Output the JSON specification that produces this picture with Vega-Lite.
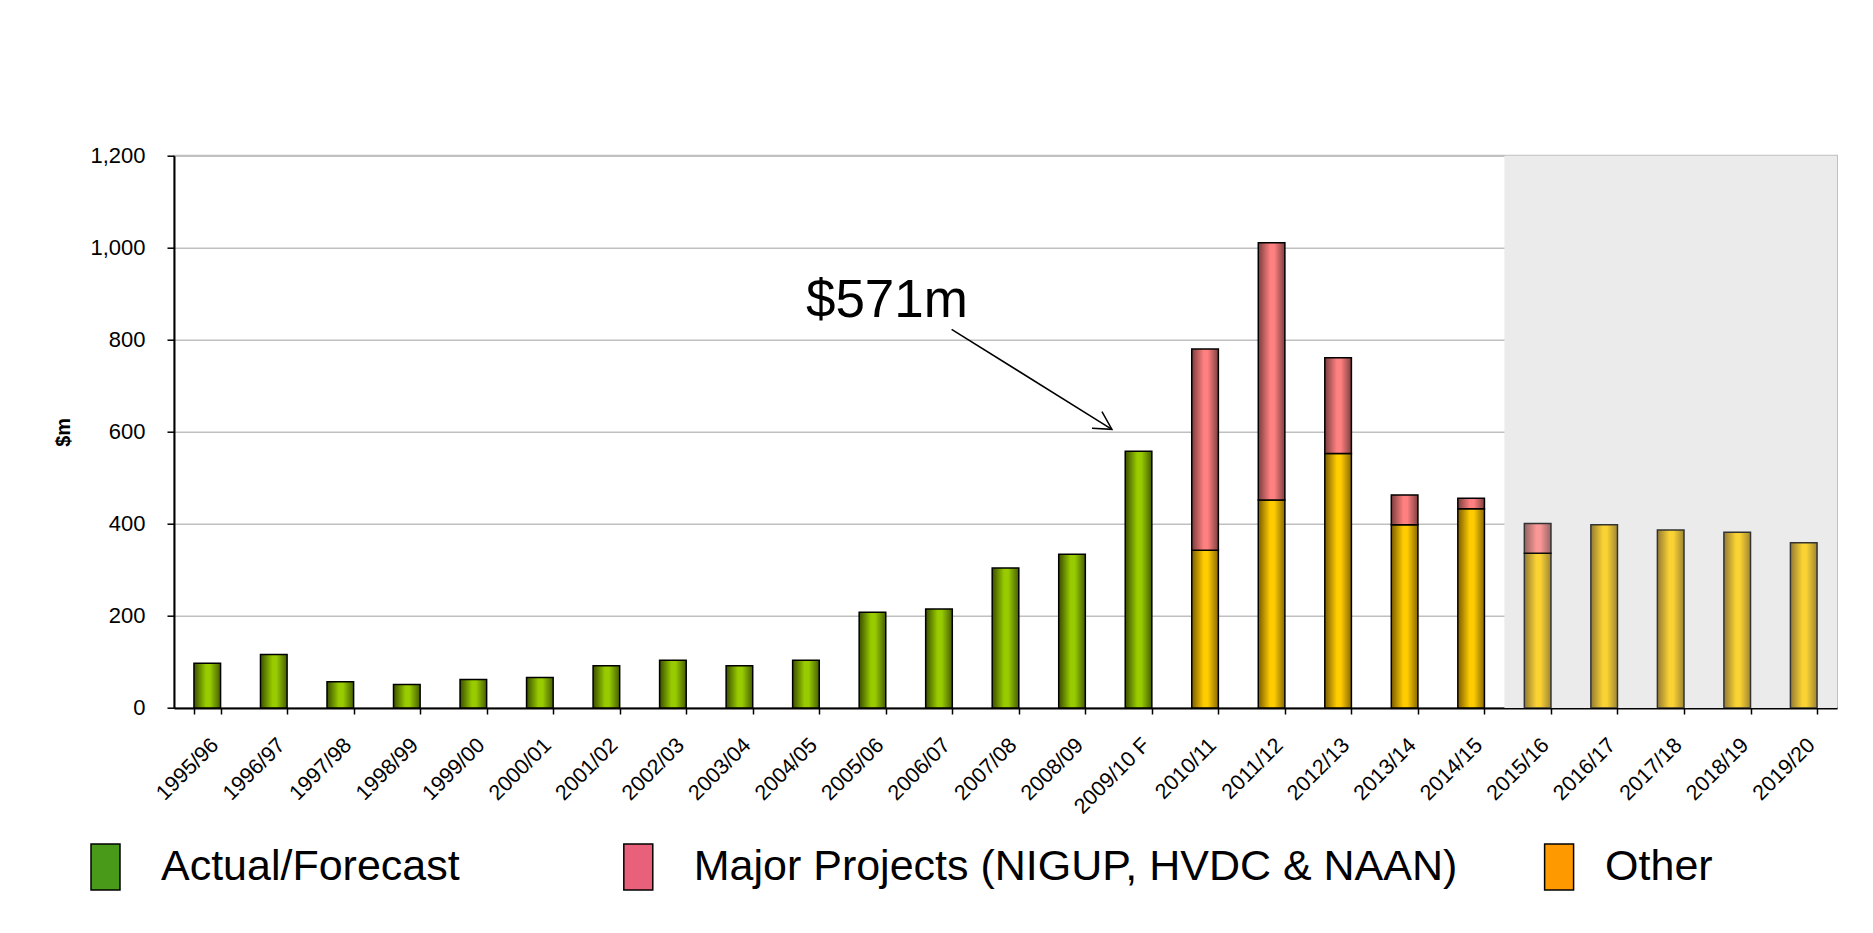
{
  "$schema": "https://vega.github.io/schema/vega-lite/v6.json",
  "width": 1663,
  "height": 552.3,
  "autosize": {"type": "none"},
  "padding": {"left": 174, "top": 155.7, "right": 36.3, "bottom": 225},
  "background": "white",
  "config": {
    "font": "Liberation Sans",
    "view": {"stroke": "#c0c0c0", "strokeWidth": 2},
    "axis": {
      "labelFont": "Liberation Sans",
      "labelFontSize": 22,
      "labelColor": "black",
      "domainColor": "black",
      "domainWidth": 2,
      "tickColor": "black",
      "tickWidth": 1.5,
      "titleFont": "Liberation Sans",
      "titleColor": "black"
    },
    "axisY": {
      "grid": true,
      "gridColor": "#c0c0c0",
      "gridWidth": 1.5,
      "tickSize": 7,
      "labelPadding": 22,
      "titleFontSize": 20,
      "titleFontWeight": "bold",
      "titlePadding": 16,
      "tickCount": 6
    },
    "axisX": {
      "grid": false,
      "labelAngle": -45,
      "labelAlign": "right",
      "labelBaseline": "top",
      "labelFontSize": 21.5,
      "tickSize": 6,
      "labelPadding": 20
    },
    "legend": {
      "orient": "none",
      "legendY": 687.3,
      "direction": "horizontal",
      "symbolType": "M-0.63,-1H0.63V1H-0.63Z",
      "symbolSize": 2116,
      "symbolStrokeColor": "black",
      "symbolStrokeWidth": 1.5,
      "labelFontSize": 43,
      "labelFont": "Liberation Sans",
      "labelColor": "black",
      "labelLimit": 2000,
      "padding": 0
    }
  },
  "datasets": {
    "spend": [
      {"year": "1995/96", "series": "Actual/Forecast", "value": 97},
      {"year": "1996/97", "series": "Actual/Forecast", "value": 116},
      {"year": "1997/98", "series": "Actual/Forecast", "value": 57},
      {"year": "1998/99", "series": "Actual/Forecast", "value": 51},
      {"year": "1999/00", "series": "Actual/Forecast", "value": 62},
      {"year": "2000/01", "series": "Actual/Forecast", "value": 66},
      {"year": "2001/02", "series": "Actual/Forecast", "value": 92},
      {"year": "2002/03", "series": "Actual/Forecast", "value": 104},
      {"year": "2003/04", "series": "Actual/Forecast", "value": 92},
      {"year": "2004/05", "series": "Actual/Forecast", "value": 104},
      {"year": "2005/06", "series": "Actual/Forecast", "value": 208},
      {"year": "2006/07", "series": "Actual/Forecast", "value": 215},
      {"year": "2007/08", "series": "Actual/Forecast", "value": 304},
      {"year": "2008/09", "series": "Actual/Forecast", "value": 334},
      {"year": "2009/10 F", "series": "Actual/Forecast", "value": 558},
      {"year": "2010/11", "series": "Other", "value": 343},
      {"year": "2010/11", "series": "Major Projects (NIGUP, HVDC & NAAN)", "value": 437},
      {"year": "2011/12", "series": "Other", "value": 452},
      {"year": "2011/12", "series": "Major Projects (NIGUP, HVDC & NAAN)", "value": 559},
      {"year": "2012/13", "series": "Other", "value": 553},
      {"year": "2012/13", "series": "Major Projects (NIGUP, HVDC & NAAN)", "value": 208},
      {"year": "2013/14", "series": "Other", "value": 398},
      {"year": "2013/14", "series": "Major Projects (NIGUP, HVDC & NAAN)", "value": 65},
      {"year": "2014/15", "series": "Other", "value": 433},
      {"year": "2014/15", "series": "Major Projects (NIGUP, HVDC & NAAN)", "value": 23},
      {"year": "2015/16", "series": "Other", "value": 336},
      {"year": "2015/16", "series": "Major Projects (NIGUP, HVDC & NAAN)", "value": 65},
      {"year": "2016/17", "series": "Other", "value": 398},
      {"year": "2017/18", "series": "Other", "value": 387},
      {"year": "2018/19", "series": "Other", "value": 382},
      {"year": "2019/20", "series": "Other", "value": 359}
    ],
    "shade": [
      {"u0": 20, "u1": 25, "lo": 0, "hi": 1200}
    ],
    "note": [
      {"u": 9.5, "v": 850, "label": "$571m"}
    ],
    "arrow": [
      {"part": "shaft", "k": 0, "u": 11.69, "v": 822.7},
      {"part": "shaft", "k": 1, "u": 14.10, "v": 605.5},
      {"part": "head", "k": 0, "u": 13.80, "v": 607.7},
      {"part": "head", "k": 1, "u": 14.10, "v": 605.5},
      {"part": "head", "k": 2, "u": 13.95, "v": 643.7}
    ]
  },
  "resolve": {"scale": {"x": "independent"}},
  "layer": [
    {
      "data": {"name": "shade"},
      "mark": {"type": "rect", "fill": "#ebebeb"},
      "encoding": {
        "x": {"field": "u0", "type": "quantitative", "scale": {"domain": [0, 25], "nice": false, "zero": false}, "axis": null},
        "x2": {"field": "u1"},
        "y": {"field": "lo", "type": "quantitative", "title": "$m", "scale": {"domain": [0, 1200], "nice": false}, "axis": {"format": ",.0f"}},
        "y2": {"field": "hi"}
      }
    },
    {
      "data": {"name": "spend"},
      "layer": [
        {
          "transform": [
            {"stack": "value", "groupby": ["year"], "sort": [{"field": "series", "order": "descending"}], "as": ["v0", "v1"]},
            {"filter": "datum.series === 'Actual/Forecast'"}
          ],
          "mark": {
            "type": "bar",
            "stroke": "black",
            "strokeWidth": 1.5,
            "fill": {"gradient": "linear", "x1": 0, "y1": 0, "x2": 1, "y2": 0,
              "stops": [
                {"offset": 0, "color": "#3a4f00"},
                {"offset": 0.45, "color": "#99cc00"},
                {"offset": 0.6, "color": "#99cc00"},
                {"offset": 1, "color": "#465f00"}
              ]}
          },
          "encoding": {
            "x": {"field": "year", "type": "nominal", "title": null, "scale": {"paddingInner": 0.6, "paddingOuter": 0.3}, "axis": {"tickBand": "extent"}},
            "y": {"field": "v1", "type": "quantitative", "title": "$m", "scale": {"domain": [0, 1200], "nice": false}, "axis": {"format": ",.0f"}},
            "y2": {"field": "v0"}
          }
        },
        {
          "transform": [
            {"stack": "value", "groupby": ["year"], "sort": [{"field": "series", "order": "descending"}], "as": ["v0", "v1"]},
            {"filter": "datum.series === 'Other'"}
          ],
          "mark": {
            "type": "bar",
            "stroke": "black",
            "strokeWidth": 1.5,
            "fill": {"gradient": "linear", "x1": 0, "y1": 0, "x2": 1, "y2": 0,
              "stops": [
                {"offset": 0, "color": "#7a5c00"},
                {"offset": 0.45, "color": "#ffcc00"},
                {"offset": 0.6, "color": "#ffcc00"},
                {"offset": 1, "color": "#8a6a00"}
              ]}
          },
          "encoding": {
            "x": {"field": "year", "type": "nominal", "title": null, "scale": {"paddingInner": 0.6, "paddingOuter": 0.3}, "axis": {"tickBand": "extent"}},
            "y": {"field": "v1", "type": "quantitative", "title": "$m", "scale": {"domain": [0, 1200], "nice": false}, "axis": {"format": ",.0f"}},
            "y2": {"field": "v0"},
            "opacity": {"condition": {"test": "datum.year >= '2015/16'", "value": 0.78}, "value": 1}
          }
        },
        {
          "transform": [
            {"stack": "value", "groupby": ["year"], "sort": [{"field": "series", "order": "descending"}], "as": ["v0", "v1"]},
            {"filter": "datum.series === 'Major Projects (NIGUP, HVDC & NAAN)'"}
          ],
          "mark": {
            "type": "bar",
            "stroke": "black",
            "strokeWidth": 1.5,
            "fill": {"gradient": "linear", "x1": 0, "y1": 0, "x2": 1, "y2": 0,
              "stops": [
                {"offset": 0, "color": "#7a3d3d"},
                {"offset": 0.45, "color": "#ff8080"},
                {"offset": 0.6, "color": "#ff8080"},
                {"offset": 1, "color": "#804040"}
              ]}
          },
          "encoding": {
            "x": {"field": "year", "type": "nominal", "title": null, "scale": {"paddingInner": 0.6, "paddingOuter": 0.3}, "axis": {"tickBand": "extent"}},
            "y": {"field": "v1", "type": "quantitative", "title": "$m", "scale": {"domain": [0, 1200], "nice": false}, "axis": {"format": ",.0f"}},
            "y2": {"field": "v0"},
            "opacity": {"condition": {"test": "datum.year >= '2015/16'", "value": 0.78}, "value": 1}
          }
        },
        {
          "transform": [{"filter": "false"}],
          "mark": {"type": "bar"},
          "encoding": {
            "x": {"field": "year", "type": "nominal", "title": null, "scale": {"paddingInner": 0.6, "paddingOuter": 0.3}, "axis": {"tickBand": "extent"}},
            "y": {"field": "value", "type": "quantitative", "title": "$m", "stack": null, "scale": {"domain": [0, 1200], "nice": false}, "axis": {"format": ",.0f"}},
            "color": {
              "field": "series",
              "type": "nominal",
              "scale": {
                "domain": ["Actual/Forecast", "Major Projects (NIGUP, HVDC & NAAN)"],
                "range": ["#4a9a1a", "#e8607a"]
              },
              "legend": {"title": null, "legendX": -92.5, "labelOffset": 31.5, "columnPadding": 153.8}
            }
          }
        },
        {
          "transform": [{"filter": "false"}],
          "mark": {"type": "bar"},
          "encoding": {
            "x": {"field": "year", "type": "nominal", "title": null, "scale": {"paddingInner": 0.6, "paddingOuter": 0.3}, "axis": {"tickBand": "extent"}},
            "y": {"field": "value", "type": "quantitative", "title": "$m", "stack": null, "scale": {"domain": [0, 1200], "nice": false}, "axis": {"format": ",.0f"}},
            "fill": {
              "field": "series",
              "type": "nominal",
              "scale": {
                "domain": ["Other"],
                "range": ["#ff9900"]
              },
              "legend": {"title": null, "legendX": 1361.1, "labelOffset": 22}
            }
          }
        }
      ]
    },
    {
      "layer": [
        {
          "data": {"name": "note"},
          "mark": {"type": "text", "align": "left", "baseline": "alphabetic", "fontSize": 53, "font": "Liberation Sans", "color": "black"},
          "encoding": {
            "x": {"field": "u", "type": "quantitative", "scale": {"domain": [0, 25], "nice": false, "zero": false}, "axis": null},
            "y": {"field": "v", "type": "quantitative", "title": "$m", "scale": {"domain": [0, 1200], "nice": false}, "axis": {"format": ",.0f"}},
            "text": {"field": "label"}
          }
        },
        {
          "data": {"name": "arrow"},
          "mark": {"type": "line", "color": "black", "strokeWidth": 1.5},
          "encoding": {
            "x": {"field": "u", "type": "quantitative", "scale": {"domain": [0, 25], "nice": false, "zero": false}, "axis": null},
            "y": {"field": "v", "type": "quantitative", "title": "$m", "scale": {"domain": [0, 1200], "nice": false}, "axis": {"format": ",.0f"}},
            "detail": {"field": "part"},
            "order": {"field": "k"}
          }
        }
      ]
    }
  ]
}
